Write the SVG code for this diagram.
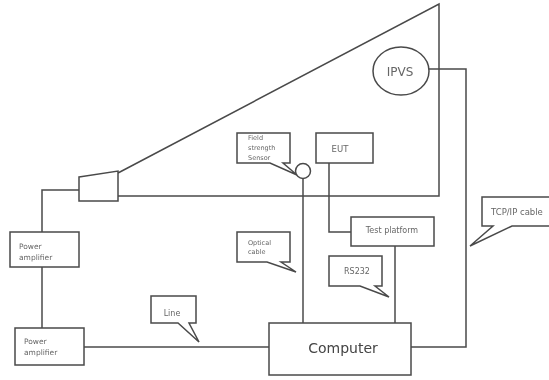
<svg xmlns="http://www.w3.org/2000/svg" width="549" height="380" viewBox="0 0 549 380">
<style>
.s{fill:#fff;stroke:#4a4a4a;stroke-width:1.5}
.c{fill:none;stroke:#4a4a4a;stroke-width:1.5}
.t{font-family:"DejaVu Sans",sans-serif;font-size:7.5px;fill:#666}
</style>
<defs><filter id="soft" filterUnits="userSpaceOnUse" x="0" y="0" width="549" height="380"><feGaussianBlur stdDeviation="0.45"/></filter></defs>
<rect width="549" height="380" fill="#fff"/>
<g filter="url(#soft)">
<g id="connectors" class="c">
<path d="M118 173L439 4V196H118"/>
<path d="M79 190H42V232"/>
<path d="M42 267V328"/>
<path d="M84 347H270"/>
<path d="M303 178V323"/>
<path d="M329 163V232H351"/>
<path d="M395 246V323"/>
<path d="M429 69H466V347H411"/>
</g>
<g id="horn"><polygon class="s" points="79,177 118,171 118,201 79,201"/></g>
<g id="ipvs"><ellipse class="s" cx="401" cy="71" rx="28" ry="24"/><text class="t" x="400" y="76" text-anchor="middle" style="font-size:12px">IPVS</text></g>
<g id="sensor"><circle class="s" cx="303" cy="171" r="7.5"/></g>
<g id="power-amplifier-1"><rect class="s" x="10" y="232" width="69" height="35"/><text class="t" x="19" y="249">Power</text><text class="t" x="19" y="260">amplifier</text></g>
<g id="power-amplifier-2"><rect class="s" x="15" y="328" width="69" height="37"/><text class="t" x="24" y="344">Power</text><text class="t" x="24" y="355">amplifier</text></g>
<g id="computer"><rect class="s" x="269" y="323" width="142" height="52"/><text x="343" y="353" text-anchor="middle" style="font-family:'DejaVu Sans',sans-serif;font-size:14px;fill:#444">Computer</text></g>
<g id="eut"><rect class="s" x="316" y="133" width="57" height="30"/><text class="t" x="340" y="152" text-anchor="middle" style="font-size:8.5px">EUT</text></g>
<g id="test-platform"><rect class="s" x="351" y="217" width="83" height="29"/><text class="t" x="392" y="233" text-anchor="middle" style="font-size:8px">Test platform</text></g>
<g id="callout-field"><path class="s" d="M237 133H290V163H283L297 175L270 163H237Z"/><text class="t" x="248" y="140" style="font-size:6.5px">Field</text><text class="t" x="248" y="150" style="font-size:6.5px">strength</text><text class="t" x="248" y="160" style="font-size:6.5px">Sensor</text></g>
<g id="callout-optical"><path class="s" d="M237 232H290V262H281L296 272L267 262H237Z"/><text class="t" x="248" y="245" style="font-size:6.5px">Optical</text><text class="t" x="248" y="254" style="font-size:6.5px">cable</text></g>
<g id="callout-rs232"><path class="s" d="M329 256H382V286H375L389 297L360 286H329Z"/><text class="t" x="344" y="274" style="font-size:8px">RS232</text></g>
<g id="callout-line"><path class="s" d="M151 296H196V323H189L199 342L178 323H151Z"/><text class="t" x="172" y="316" text-anchor="middle" style="font-size:8px">Line</text></g>
<g id="callout-tcp"><path class="s" d="M549 197H482V226H493L470 246L512 226H549"/><text class="t" x="491" y="215" style="font-size:8.5px">TCP/IP cable</text></g>
</g>
</svg>
